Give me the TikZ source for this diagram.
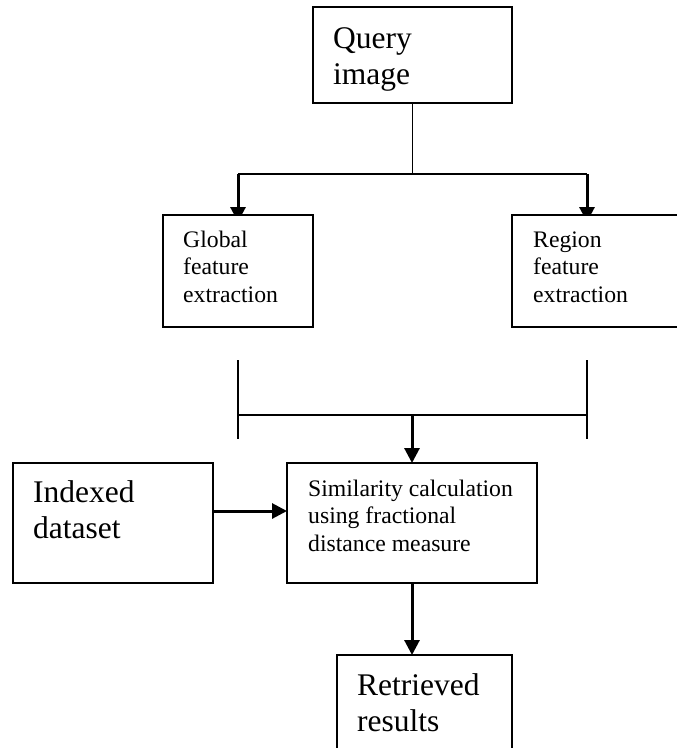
\documentclass[tikz,border=0pt]{standalone}
\usepackage{fontspec}
\setmainfont{Liberation Serif}
\usetikzlibrary{arrows.meta,calc}
\pgfdeclarelayer{background}
\pgfsetlayers{background,main}
\begin{document}
\begin{tikzpicture}[x=1pt,y=-1pt,
  box/.style={draw=black,line width=2pt,fill=white,rectangle,inner sep=0pt,outer sep=0pt,anchor=north west},
  bigtxt/.style={anchor=base west,inner sep=0pt,font=\fontsize{31.5}{36.5}\selectfont},
  smalltxt/.style={anchor=base west,inner sep=0pt,font=\fontsize{23.7}{27.5}\selectfont},
  thinline/.style={draw=black,line width=1.7pt},
  arr/.style={draw=black,line width=3pt,-{Triangle[length=15pt,width=15pt]}}]
\useasboundingbox (0,0) rectangle (677,748);
% boxes
\node[box,minimum width=199pt,minimum height=96pt] (query) at (313,7) {};
\node[box,minimum width=150pt,minimum height=112pt] (global) at (163,215) {};
\node[box,minimum width=180pt,minimum height=112pt] (region) at (512,215) {};
\node[box,minimum width=200pt,minimum height=120pt] (indexed) at (13,463) {};
\node[box,minimum width=250pt,minimum height=120pt] (sim) at (287,463) {};
\node[box,minimum width=175pt,minimum height=110pt] (retr) at (337,655) {};
% texts
\node[bigtxt] (qtext) at (333,48) {\begin{tabular}[t]{@{}l@{}}Query\\image\end{tabular}};
\node[smalltxt] (gtext) at (183,247) {\begin{tabular}[t]{@{}l@{}}Global\\feature\\extraction\end{tabular}};
\node[smalltxt] (rtext) at (533,247) {\begin{tabular}[t]{@{}l@{}}Region\\feature\\extraction\end{tabular}};
\node[bigtxt] (itext) at (33,502) {\begin{tabular}[t]{@{}l@{}}Indexed\\dataset\end{tabular}};
\node[smalltxt] (stext) at (308,496) {\begin{tabular}[t]{@{}l@{}}Similarity calculation\\using fractional\\distance measure\end{tabular}};
\node[bigtxt] (ttext) at (357,695) {\begin{tabular}[t]{@{}l@{}}Retrieved\\results\end{tabular}};
% coordinates
\coordinate (split) at (412.5,174);
\coordinate (gsplit) at (238,174);
\coordinate (rsplit) at (587,174);
\coordinate (gl1) at (238,360);
\coordinate (gl2) at (238,439);
\coordinate (rl1) at (587,360);
\coordinate (rl2) at (587,439);
\coordinate (hl) at (238,415);
\coordinate (hr) at (587,415);
\coordinate (merge) at (412,415);
\begin{pgfonlayer}{background}
\draw[thinline] (query.south) -- (split);
\draw[thinline] (gsplit) -- (rsplit);
\draw[arr] (gsplit) -- ($(global.north)+(0,7)$);
\draw[arr] (rsplit) -- ($(region.north west)+(75,7)$);
\draw[thinline] (gl1) -- (gl2);
\draw[thinline] (rl1) -- (rl2);
\draw[thinline] (hl) -- (hr);
\draw[arr] (merge) -- (merge |- sim.north);
\draw[arr] ($(indexed.north east)+(0,48)$) -- ($(sim.north west)+(0,48)$);
\draw[arr] (sim.south) -- (sim.south |- retr.north);
\end{pgfonlayer}
\end{tikzpicture}
\end{document}
